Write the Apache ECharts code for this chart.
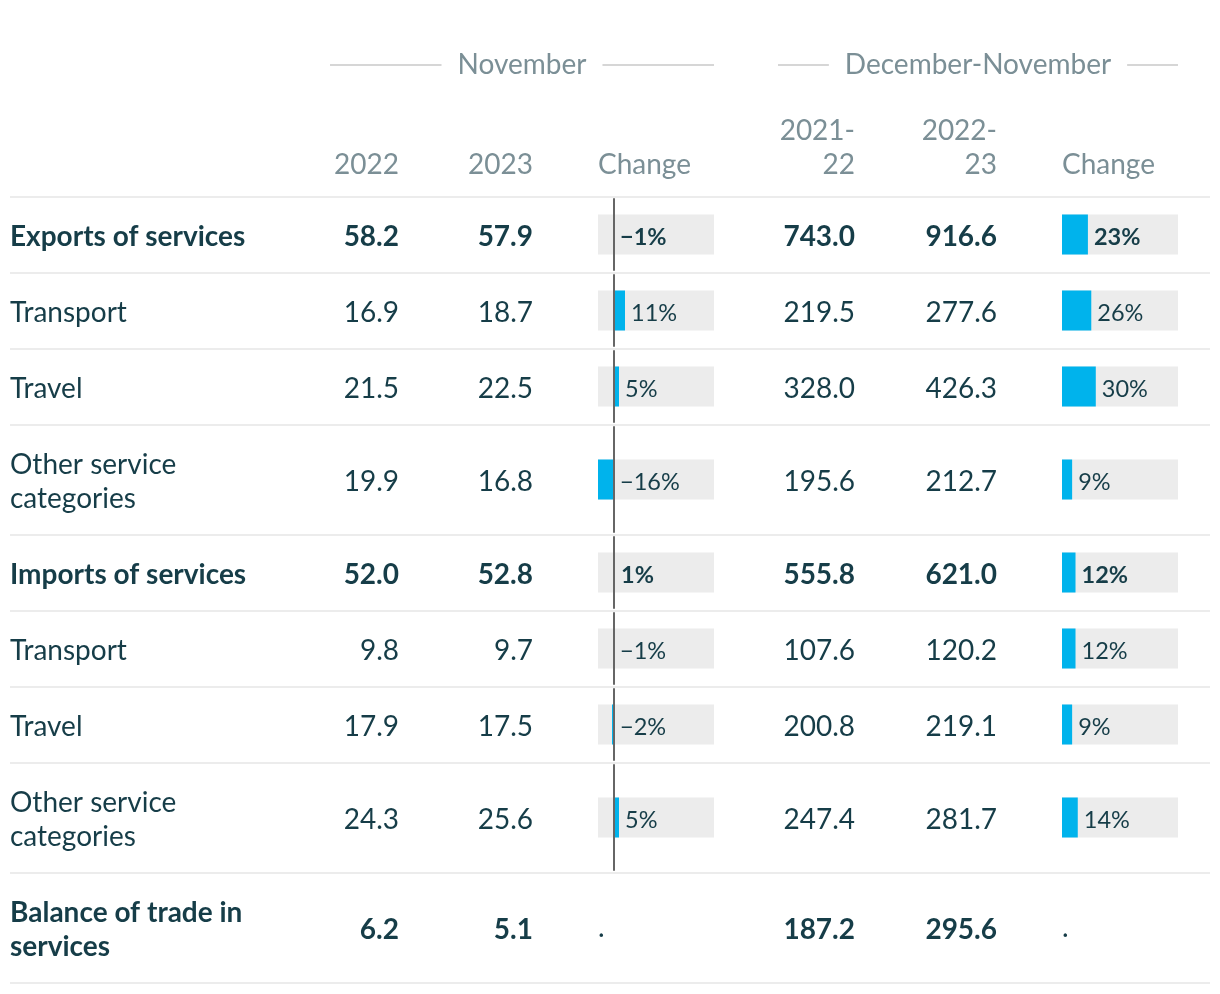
<!DOCTYPE html>
<html>
<head>
<meta charset="utf-8">
<script src="https://cdn.jsdelivr.net/npm/echarts@6/dist/echarts.min.js"></script>
<style>
html,body{margin:0;padding:0;background:#fff;}
#chart{width:1220px;height:994px;}
</style>
</head>
<body>
<div id="chart"></div>
<script>
// ---- data ----
const rowLabels = ['Exports of services','Transport','Travel','Other service\ncategories','Imports of services','Transport','Travel','Other service\ncategories','Balance of trade in\nservices'];
const boldRows = [true,false,false,false,true,false,false,false,true];
const nov2022 = [58.2,16.9,21.5,19.9,52.0,9.8,17.9,24.3,6.2];
const nov2023 = [57.9,18.7,22.5,16.8,52.8,9.7,17.5,25.6,5.1];
const novChange = [-1,11,5,-16,1,-1,-2,5,null];
const dn2122 = [743.0,219.5,328.0,195.6,555.8,107.6,200.8,247.4,187.2];
const dn2223 = [916.6,277.6,426.3,212.7,621.0,120.2,219.1,281.7,295.6];
const dnChange = [23,26,30,9,12,12,9,14,null];
const groupHeaders = ['November','December-November'];
const columnHeaders = ['2022','2023','Change','2021-\n22','2022-\n23','Change'];

// ---- styles / layout ----
const FONT = 'Lato';
const TXT = '#163d48';
const HDR = '#7b8f96';
const SEP = '#ececec';
const BAR = '#00b3ec';
const BOX = '#ececec';
const FS = 28, LFS = 23.5;
const tableTop = 197, tableLeft = 10, tableRight = 1210;
const colRight = [399, 533, null, 855, 997, null];
const chg1 = {left: 598, width: 116, min: -16, max: 100};
const chg2 = {left: 1062, width: 116, min: 0, max: 103};
const groupSpans = [[330, 714, 522], [778, 1178, 978]];

const chart = echarts.init(document.getElementById('chart'), null, {renderer: 'canvas'});

const measure = (() => {
  const c = document.createElement('canvas').getContext('2d');
  return (t, fs, w) => { c.font = (w || 'normal') + ' ' + fs + 'px ' + FONT; return c.measureText(t).width; };
})();

// row geometry
const rowTops = [], rowHs = [];
let yy = tableTop;
rowLabels.forEach(l => { const h = l.indexOf('\n') >= 0 ? 110 : 76; rowTops.push(yy); rowHs.push(h); yy += h; });

const graphic = [];
const txt = (text, x, y, opt) => graphic.push({
  type: 'text', silent: true,
  style: Object.assign({text, x, y, fill: TXT, fontFamily: FONT, fontSize: FS, fontWeight: 'normal',
    textAlign: 'left', textVerticalAlign: 'middle', lineHeight: 34}, opt || {})
});
const line = (x1, y1, x2, y2, color, w) => graphic.push({
  type: 'line', silent: true, shape: {x1, y1, x2, y2}, style: {stroke: color, lineWidth: w}
});

// group headers with rules
groupHeaders.forEach((g, i) => {
  const [a, b, c] = groupSpans[i];
  const w = measure(g, FS);
  txt(g, c, 65, {fill: HDR, textAlign: 'center'});
  line(a, 65, c - w / 2 - 16, 65, '#c8c8c8', 1.5);
  line(c + w / 2 + 16, 65, b, 65, '#c8c8c8', 1.5);
});
// column headers
columnHeaders.forEach((h, i) => {
  const two = h.indexOf('\n') >= 0;
  const y = two ? 148 : 165;
  if (colRight[i] != null) txt(h, colRight[i], y, {fill: HDR, textAlign: 'right'});
  else txt(h, i === 2 ? chg1.left : chg2.left, y, {fill: HDR});
});
// separators
line(tableLeft, tableTop, tableRight, tableTop, SEP, 2);
rowTops.forEach((t, i) => line(tableLeft, t + rowHs[i], tableRight, t + rowHs[i], SEP, 2));

// row texts
rowLabels.forEach((l, i) => {
  const cy = rowTops[i] + rowHs[i] / 2 + 2;
  const fw = boldRows[i] ? 'bold' : 'normal';
  txt(l, tableLeft, cy, {fontWeight: fw});
  [nov2022, nov2023, null, dn2122, dn2223].forEach((arr, c) => {
    if (arr) txt(arr[i].toFixed(1), colRight[c], cy, {fontWeight: fw, textAlign: 'right'});
  });
  if (novChange[i] == null) txt('.', chg1.left, cy - 2, {fontWeight: 'normal'});
  if (dnChange[i] == null) txt('.', chg2.left, cy - 2, {fontWeight: 'normal'});
});

// bar grids
const grid = [], xAxis = [], yAxis = [], series = [];
const fmtPct = v => (v < 0 ? '\u2212' + Math.abs(v) : '' + v) + '%';
rowLabels.forEach((l, i) => {
  [[chg1, novChange, true], [chg2, dnChange, false]].forEach(([cfg, arr, zeroLine]) => {
    if (arr[i] == null) return;
    const gi = grid.length;
    grid.push({left: cfg.left, width: cfg.width, top: rowTops[i] + 2, height: rowHs[i] - 5, containLabel: false});
    xAxis.push({type: 'value', gridIndex: gi, min: cfg.min, max: cfg.max, show: false});
    yAxis.push({type: 'category', gridIndex: gi, data: [l], z: 5,
      axisLine: {show: zeroLine, onZero: true, lineStyle: {color: '#666', width: 2}},
      axisTick: {show: false}, axisLabel: {show: false}, splitLine: {show: false}});
    series.push({type: 'bar', xAxisIndex: gi, yAxisIndex: gi, data: [arr[i]], barWidth: 40,
      showBackground: true, backgroundStyle: {color: BOX},
      itemStyle: {color: BAR}, silent: true, animation: false,
      label: {show: true, position: 'right', distance: 6, offset: [0, 3], formatter: p => fmtPct(p.value),
        color: TXT, fontFamily: FONT, fontSize: LFS, fontWeight: boldRows[i] ? 'bold' : 'normal'}});
  });
});

chart.setOption({
  animation: false,
  grid, xAxis, yAxis, series, graphic
});
</script>
</body>
</html>
